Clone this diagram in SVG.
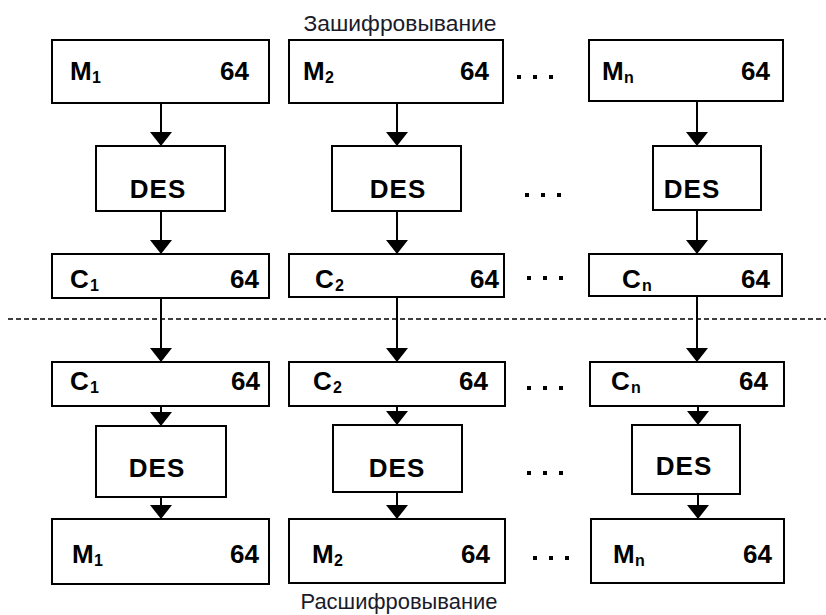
<svg xmlns="http://www.w3.org/2000/svg" width="826" height="615" viewBox="0 0 826 615">
<style>
.box{fill:#fff;stroke:#000;stroke-width:2}
.t{font-family:"Liberation Sans",Arial,sans-serif;font-size:26px;font-weight:bold;fill:#000}
.sub{font-family:"Liberation Sans",Arial,sans-serif;font-size:16px;font-weight:bold;fill:#000}
.cap{font-family:"Liberation Sans",Arial,sans-serif;font-size:22px;fill:#1a1a2a;text-anchor:middle}
.e{text-anchor:end}
.m{text-anchor:middle;letter-spacing:1px}
.ln{stroke:#000;stroke-width:2;fill:none}
.dash{stroke:#000;stroke-width:1.5;stroke-dasharray:5,3;fill:none}
.dot{fill:#000}
</style>
<defs>
<marker id="ah" viewBox="0 0 14 22" refX="14" refY="11" markerWidth="14" markerHeight="22" markerUnits="userSpaceOnUse" orient="auto">
<path d="M0,0 L14,11 L0,22 Z" fill="#000"/>
</marker>
<g id="dots"><rect x="0" y="-2" width="4" height="4" class="dot"/><rect x="16" y="-2" width="4" height="4" class="dot"/><rect x="32" y="-2" width="4" height="4" class="dot"/></g>
</defs>

<text class="cap" x="400" y="31" textLength="193" lengthAdjust="spacingAndGlyphs">Зашифровывание</text>
<text class="cap" x="399" y="609" textLength="197" lengthAdjust="spacingAndGlyphs">Расшифровывание</text>

<g id="connectors">
<line class="dash" x1="8" y1="319" x2="826" y2="319"/>
<line class="ln" x1="161" y1="103" x2="161" y2="146" marker-end="url(#ah)"/>
<line class="ln" x1="161" y1="211" x2="161" y2="254" marker-end="url(#ah)"/>
<line class="ln" x1="161" y1="298" x2="161" y2="362" marker-end="url(#ah)"/>
<line class="ln" x1="161" y1="406" x2="161" y2="426" marker-end="url(#ah)"/>
<line class="ln" x1="161" y1="497" x2="161" y2="519" marker-end="url(#ah)"/>
<line class="ln" x1="397" y1="103" x2="397" y2="146" marker-end="url(#ah)"/>
<line class="ln" x1="397" y1="211" x2="397" y2="254" marker-end="url(#ah)"/>
<line class="ln" x1="397" y1="297" x2="397" y2="362" marker-end="url(#ah)" stroke-width="3"/>
<line class="ln" x1="397" y1="406" x2="397" y2="425" marker-end="url(#ah)"/>
<line class="ln" x1="397" y1="492" x2="397" y2="519" marker-end="url(#ah)"/>
<line class="ln" x1="697" y1="101" x2="697" y2="146" marker-end="url(#ah)"/>
<line class="ln" x1="697" y1="210" x2="697" y2="254" marker-end="url(#ah)"/>
<line class="ln" x1="697" y1="296" x2="697" y2="362" marker-end="url(#ah)"/>
<line class="ln" x1="698" y1="406" x2="698" y2="425" marker-end="url(#ah)"/>
<line class="ln" x1="698" y1="494" x2="698" y2="519" marker-end="url(#ah)"/>
</g>

<g id="ellipses">
<use href="#dots" x="517" y="77"/>
<use href="#dots" x="525" y="195"/>
<use href="#dots" x="527" y="278"/>
<use href="#dots" x="527" y="388"/>
<use href="#dots" x="527" y="473"/>
<use href="#dots" x="533" y="558"/>
</g>

<g id="m1-enc"><rect class="box" x="52" y="40" width="217" height="63"/><text class="t" x="70" y="80">M</text><text class="sub" x="92" y="83">1</text><text class="t e" x="249" y="80">64</text></g>
<g id="des1-enc"><rect class="box" x="96" y="146" width="129" height="65"/><text class="t m" x="158" y="198">DES</text></g>
<g id="c1-enc"><rect class="box" x="52" y="254" width="217" height="44"/><text class="t" x="70" y="288">C</text><text class="sub" x="90" y="291">1</text><text class="t e" x="259" y="288">64</text></g>

<g id="m2-enc"><rect class="box" x="289" y="40" width="214" height="63"/><text class="t" x="303" y="80">M</text><text class="sub" x="325" y="83">2</text><text class="t e" x="489" y="80">64</text></g>
<g id="des2-enc"><rect class="box" x="332" y="146" width="129" height="65"/><text class="t m" x="398" y="198">DES</text></g>
<g id="c2-enc"><rect class="box" x="289" y="254" width="215" height="43"/><text class="t" x="315" y="288">C</text><text class="sub" x="335" y="291">2</text><text class="t e" x="499" y="288">64</text></g>

<g id="mn-enc"><rect class="box" x="589" y="40" width="194" height="61"/><text class="t" x="602" y="80">M</text><text class="sub" x="624" y="83">n</text><text class="t e" x="770" y="80">64</text></g>
<g id="desn-enc"><rect class="box" x="653" y="146" width="108" height="64"/><text class="t m" x="692" y="198">DES</text></g>
<g id="cn-enc"><rect class="box" x="589" y="254" width="193" height="42"/><text class="t" x="622" y="288">C</text><text class="sub" x="642" y="291">n</text><text class="t e" x="770" y="288">64</text></g>

<g id="c1-dec"><rect class="box" x="52" y="362" width="217" height="44"/><text class="t" x="70" y="390">C</text><text class="sub" x="90" y="393">1</text><text class="t e" x="260" y="390">64</text></g>
<g id="des1-dec"><rect class="box" x="96" y="426" width="130" height="71"/><text class="t m" x="157" y="477">DES</text></g>
<g id="m1-dec"><rect class="box" x="52" y="519" width="217" height="65"/><text class="t" x="72" y="563">M</text><text class="sub" x="94" y="566">1</text><text class="t e" x="259" y="563">64</text></g>

<g id="c2-dec"><rect class="box" x="289" y="362" width="216" height="44"/><text class="t" x="313" y="390">C</text><text class="sub" x="333" y="393">2</text><text class="t e" x="488" y="390">64</text></g>
<g id="des2-dec"><rect class="box" x="333" y="425" width="129" height="67"/><text class="t m" x="397" y="477">DES</text></g>
<g id="m2-dec"><rect class="box" x="289" y="519" width="216" height="64"/><text class="t" x="312" y="563">M</text><text class="sub" x="334" y="566">2</text><text class="t e" x="490" y="563">64</text></g>

<g id="cn-dec"><rect class="box" x="590" y="362" width="194" height="44"/><text class="t" x="611" y="390">C</text><text class="sub" x="631" y="393">n</text><text class="t e" x="768" y="390">64</text></g>
<g id="desn-dec"><rect class="box" x="632" y="425" width="108" height="69"/><text class="t m" x="684" y="475">DES</text></g>
<g id="mn-dec"><rect class="box" x="591" y="519" width="193" height="64"/><text class="t" x="613" y="563">M</text><text class="sub" x="635" y="566">n</text><text class="t e" x="772" y="563">64</text></g>
</svg>
